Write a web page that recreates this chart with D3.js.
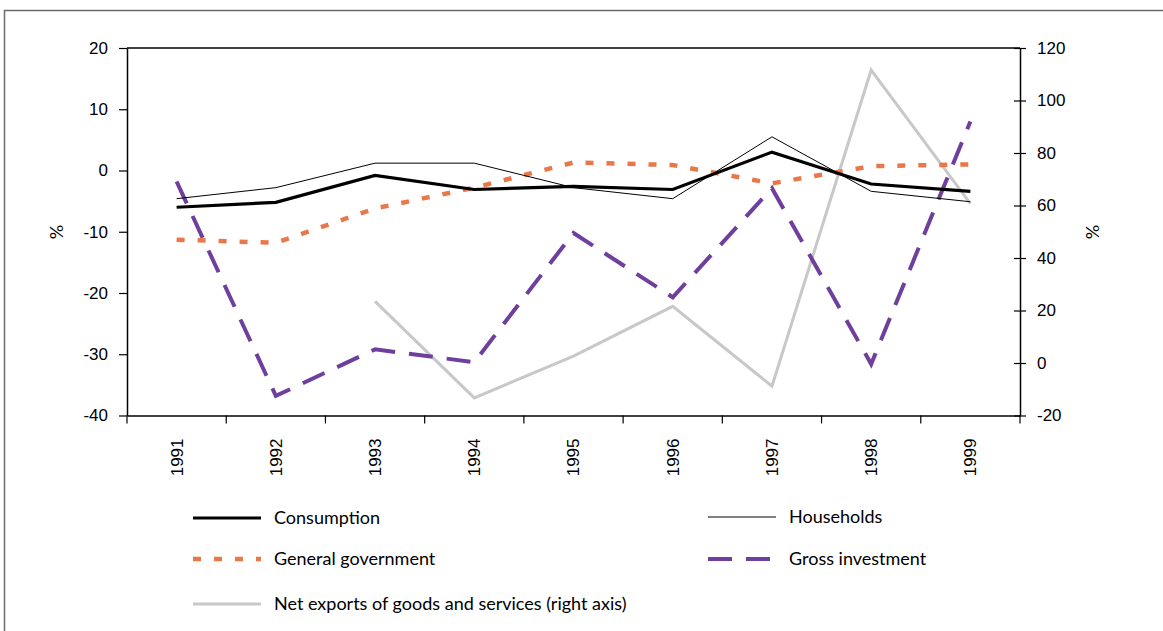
<!DOCTYPE html>
<html>
<head>
<meta charset="utf-8">
<script src="https://cdn.jsdelivr.net/npm/d3@7"></script>
<style>
  body { margin:0; background:#fff; }
  svg { display:block; font-family: Lato, "Open Sans", sans-serif; }
  .axis path, .axis line { stroke:#000; }
  .axis text { font-size:17px; fill:#000; }
</style>
</head>
<body>
<div id="canvas"></div>
<script>
// values
var years = ['1991','1992','1993','1994','1995','1996','1997','1998','1999'];
var consumption = [-6.0, -5.2, -0.8, -3.1, -2.6, -3.1, 3.0, -2.2, -3.4];
var households  = [-4.6, -2.8, 1.2, 1.2, -2.8, -4.6, 5.5, -3.4, -5.1];
var government  = [-11.3, -11.8, -6.2, -2.8, 1.3, 0.9, -2.1, 0.7, 1.0];
var investment  = [-1.8, -36.8, -29.2, -31.3, -10.2, -20.7, -2.9, -31.6, 8.0];
var netExports  = [null, null, 23.5, -13.3, 2.6, 21.6, -8.8, 111.6, 60.7]; // right axis
var leftTicks = [-40,-30,-20,-10,0,10,20];
var rightTicks = [-20,0,20,40,60,80,100,120];

var W = 1163, H = 631;
var m = {t:48, r:143, b:215, l:127};
var fmt = function(d){ return String(d); }; // plain hyphen minus like the original

var svg = d3.select('#canvas').append('svg')
    .attr('width', W)
    .attr('height', H);

// outer frame
svg.append('rect')
    .attr('x', 4.5).attr('y', 10.5)
    .attr('width', W + 20).attr('height', H + 20)
    .attr('fill', 'none')
    .attr('stroke', '#6b6b6b')
    .attr('stroke-width', 1.5);

var x = d3.scaleBand().domain(years).range([m.l, W - m.r]);
var yL = d3.scaleLinear().domain([-40, 20]).range([H - m.b - 0.5, m.t]);
var yR = d3.scaleLinear().domain([-20, 120]).range([H - m.b - 0.5, m.t]);
var cx = function(i){ return x(years[i]) + x.bandwidth()/2; };

// plot box top
svg.append('line')
    .attr('x1', m.l).attr('x2', W - m.r)
    .attr('y1', m.t).attr('y2', m.t)
    .attr('stroke', '#000').attr('stroke-width', 1.5);

// left axis
var axL = svg.append('g').attr('class','axis')
    .attr('transform','translate(' + m.l + ',0)')
    .call(d3.axisLeft(yL).tickValues(leftTicks).tickFormat(fmt).tickSize(8).tickPadding(11).tickSizeOuter(0));
axL.select('.domain').attr('stroke-width', 1.5);
axL.selectAll('.tick line').attr('stroke-width', 1.2);

// right axis, ticks cross the line
var axR = svg.append('g').attr('class','axis')
    .attr('transform','translate(' + (W - m.r) + ',0)')
    .call(d3.axisRight(yR).tickValues(rightTicks).tickFormat(fmt).tickSize(6).tickPadding(11).tickSizeOuter(0));
axR.select('.domain').attr('stroke-width', 1.5);
axR.selectAll('.tick line').attr('x1', -6).attr('stroke-width', 1.2);

// bottom axis: labels from band scale, ticks on band edges
var axB = svg.append('g').attr('class','axis')
    .attr('transform','translate(0,' + yL(-40) + ')')
    .call(d3.axisBottom(x).tickSize(0).tickSizeOuter(0));
axB.select('.domain').attr('stroke-width', 1.5);
axB.selectAll('.tick text')
    .attr('transform','rotate(-90)')
    .attr('text-anchor','end')
    .attr('x', -23)
    .attr('y', 0)
    .attr('dy','0.35em');
var edges = years.map(function(d){ return x(d); }).concat([x.range()[1]]);
axB.selectAll('.edge').data(edges).enter().append('line')
    .attr('class','edge')
    .attr('x1', function(d){ return d; }).attr('x2', function(d){ return d; })
    .attr('y1', 0).attr('y2', 8)
    .attr('stroke','#000').attr('stroke-width', 1.2);

// axis titles
svg.append('text').text('%')
    .attr('transform','translate(57,232) rotate(-90)')
    .attr('text-anchor','middle').attr('dy','0.35em')
    .style('font-size','18px');
svg.append('text').text('%')
    .attr('transform','translate(1093,232) rotate(-90)')
    .attr('text-anchor','middle').attr('dy','0.35em')
    .style('font-size','18px');

var series = [
  {name:'Net exports of goods and services (right axis)', vals:netExports, y:yR, color:'#c8c8c8', w:3, dash:null, lx:193, ly:604},
  {name:'Gross investment', vals:investment, y:yL, color:'#6e3f9c', w:4, dash:'24,14', lx:708, ly:559},
  {name:'General government', vals:government, y:yL, color:'#e8784a', w:4.5, dash:'8,13', lx:193, ly:559},
  {name:'Households', vals:households, y:yL, color:'#000', w:1, dash:null, lx:708, ly:517},
  {name:'Consumption', vals:consumption, y:yL, color:'#000', w:3.2, dash:null, lx:193, ly:518}
];

series.forEach(function(s){
  var line = d3.line()
      .defined(function(d){ return d != null; })
      .x(function(d,i){ return cx(i); })
      .y(function(d){ return s.y(d); });
  svg.append('path')
      .datum(s.vals)
      .attr('d', line)
      .attr('fill','none')
      .attr('stroke', s.color)
      .attr('stroke-width', s.w)
      .attr('stroke-dasharray', s.dash)
      .attr('stroke-linejoin','miter');

  // legend
  svg.append('line')
      .attr('x1', s.lx).attr('x2', s.lx + 68)
      .attr('y1', s.ly).attr('y2', s.ly)
      .attr('stroke', s.color)
      .attr('stroke-width', s.w)
      .attr('stroke-dasharray', s.dash);
  svg.append('text').text(s.name)
      .attr('x', s.lx + 81).attr('y', s.ly)
      .attr('dy','0.35em')
      .style('font-size','18px');
});
</script>
</body>
</html>
